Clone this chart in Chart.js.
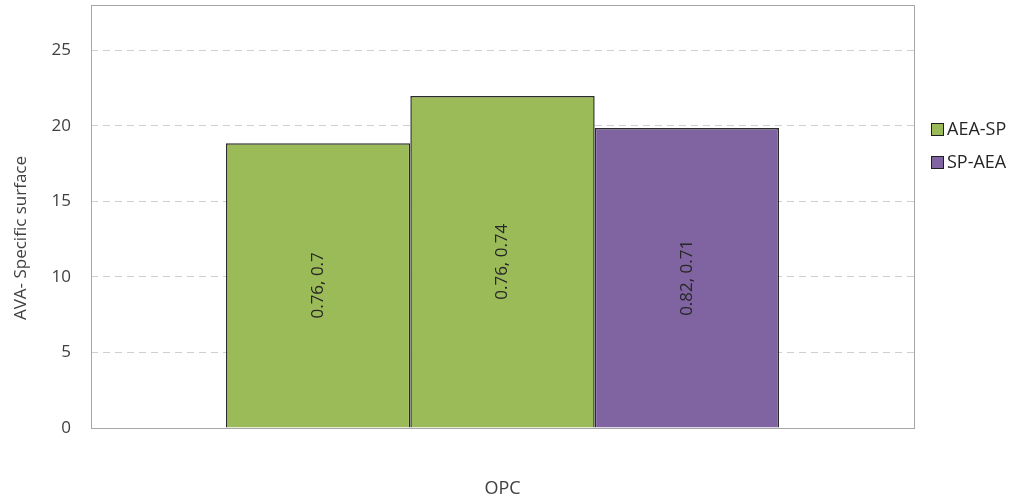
<!DOCTYPE html>
<html>
<head>
<meta charset="utf-8">
<script src="https://cdn.jsdelivr.net/npm/chart.js@4/dist/chart.umd.min.js"></script>
<style>
  html, body { margin: 0; padding: 0; background: #fff; }
  #wrap { width: 1016px; height: 498px; }
</style>
</head>
<body>
<div id="wrap"><canvas id="barChart" width="1016" height="498"></canvas></div>
<script>
const categories = ['OPC'];
const barSeries = ['AEA-SP', 'AEA-SP', 'SP-AEA'];
const barValues = [18.85, 21.98, 19.85];
const barLabels = ['0.76, 0.7', '0.76, 0.74', '0.82, 0.71'];
const legendNames = ['AEA-SP', 'SP-AEA'];
const yTicks = [0, 5, 10, 15, 20, 25];

const colors = { 'AEA-SP': '#9bbb59', 'SP-AEA': '#8064a2' };
const FONT = '"Open Sans", "DejaVu Sans", sans-serif';
const TEXT = '#404040';

const datasets = barValues.map((v, i) => ({
  label: barSeries[i],
  data: [v],
  backgroundColor: colors[barSeries[i]],
  borderColor: '#2b2b2b',
  borderWidth: 1.5,
  categoryPercentage: 0.672,
  barPercentage: 1.0
}));

// frame, axis title, bar labels and legend
const extras = {
  id: 'extras',
  afterDatasetsDraw(chart) {
    const ctx = chart.ctx;
    const a = chart.chartArea;
    ctx.save();
    ctx.strokeStyle = '#a6a6a6';
    ctx.lineWidth = 1;
    ctx.strokeRect(Math.round(a.left) + 0.5, Math.round(a.top) + 0.5,
      Math.round(a.right - a.left), Math.round(a.bottom - a.top));

    // value labels inside bars, rotated
    ctx.fillStyle = '#262626';
    ctx.font = '17px ' + FONT;
    ctx.textAlign = 'center';
    ctx.textBaseline = 'middle';
    chart.data.datasets.forEach((ds, i) => {
      const bar = chart.getDatasetMeta(i).data[0];
      const cy = (bar.y + bar.base) / 2;
      ctx.save();
      ctx.translate(bar.x, cy);
      ctx.rotate(-Math.PI / 2);
      ctx.fillText(barLabels[i], 0, 0);
      ctx.restore();
    });

    // y-axis title
    ctx.save();
    ctx.fillStyle = TEXT;
    ctx.font = '17px ' + FONT;
    ctx.translate(21, 238);
    ctx.rotate(-Math.PI / 2);
    ctx.fillText('AVA- Specific surface', 0, 0);
    ctx.restore();

    // legend
    ctx.textAlign = 'left';
    legendNames.forEach((name, i) => {
      const y = 130 + i * 33;
      ctx.fillStyle = colors[name];
      ctx.fillRect(931, y - 7, 13, 13);
      ctx.strokeStyle = '#1f1f1f';
      ctx.lineWidth = 1;
      ctx.strokeRect(931.5, y - 6.5, 12, 12);
      ctx.fillStyle = '#262626';
      ctx.font = '18px ' + FONT;
      ctx.fillText(name, 947, y);
    });
    ctx.restore();
  }
};

new Chart(document.getElementById('barChart'), {
  type: 'bar',
  data: { labels: categories, datasets: datasets },
  options: {
    responsive: false,
    animation: false,
    layout: { padding: { top: 5, right: 102, left: 0, bottom: 0 } },
    plugins: {
      legend: { display: false },
      tooltip: { enabled: false }
    },
    scales: {
      x: {
        grid: { display: false },
        border: { display: false },
        ticks: { color: TEXT, font: { family: FONT, size: 18 }, padding: 42 },
        afterFit(scale) {
          scale.height = 70;
          scale.paddingLeft = 0;
          scale.paddingRight = 0;
        }
      },
      y: {
        min: 0,
        max: 28,
        afterBuildTicks(scale) {
          scale.ticks = yTicks.map(v => ({ value: v }));
        },
        grid: { color: '#cfcfcf', lineWidth: 1, drawTicks: false },
        border: { display: false, dash: [7, 5] },
        ticks: { color: TEXT, font: { family: FONT, size: 17 }, padding: 20 },
        afterFit(scale) {
          scale.width = 91;
          scale.paddingTop = 0;
          scale.paddingBottom = 0;
        }
      }
    }
  },
  plugins: [extras]
});
</script>
</body>
</html>
